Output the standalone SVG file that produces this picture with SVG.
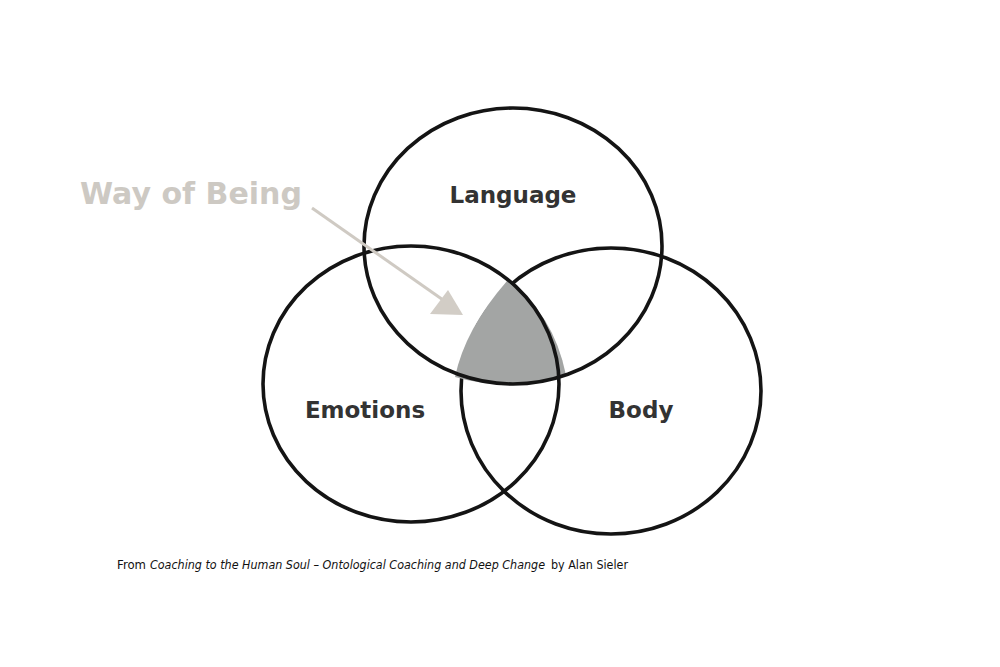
<svg xmlns="http://www.w3.org/2000/svg" width="1000" height="667" viewBox="0 0 1000 667">
<style>
.ring{fill:none;stroke:#141414;stroke-width:3.6}
.lbl{font-family:"DejaVu Sans","Liberation Sans",sans-serif;font-weight:bold;font-size:23px;fill:#333333}
.wob{font-family:"DejaVu Sans","Liberation Sans",sans-serif;font-weight:bold;font-size:31px;fill:#cdc9c3}
.cap{font-family:"DejaVu Sans","Liberation Sans",sans-serif;font-size:11.5px;fill:#111111}
</style>
<rect width="1000" height="667" fill="#ffffff"/>
<g id="body">
<ellipse class="ring" cx="611" cy="391" rx="150" ry="143"/>
<text class="lbl" x="641" y="418" text-anchor="middle">Body</text>
</g>
<g id="core">
<path d="M507,281 Q465,329 455,377 Q510,393 566,375 Q553,312 507,281 Z" fill="#a3a5a4"/>
</g>
<g id="language">
<ellipse class="ring" cx="513" cy="246" rx="149" ry="138"/>
<text class="lbl" x="513" y="203" text-anchor="middle">Language</text>
</g>
<g id="emotions">
<ellipse class="ring" cx="411" cy="384" rx="148" ry="138"/>
<text class="lbl" x="365" y="418" text-anchor="middle">Emotions</text>
</g>
<g id="way-of-being">
<text class="wob" x="80" y="204" textLength="222" lengthAdjust="spacingAndGlyphs">Way of Being</text>
</g>
<g id="connectors">
<line x1="312" y1="208" x2="446" y2="302" stroke="#cfcac3" stroke-width="3"/>
<polygon points="448,290 430,314 463,315" fill="#d2cdc6"/>
</g>
<g id="caption">
<text class="cap" x="117" y="569" textLength="29" lengthAdjust="spacingAndGlyphs">From</text>
<text class="cap" x="150" y="569" font-style="italic" textLength="395" lengthAdjust="spacingAndGlyphs">Coaching to the Human Soul – Ontological Coaching and Deep Change</text>
<text class="cap" x="551" y="569" textLength="77" lengthAdjust="spacingAndGlyphs">by Alan Sieler</text>
</g>
</svg>
